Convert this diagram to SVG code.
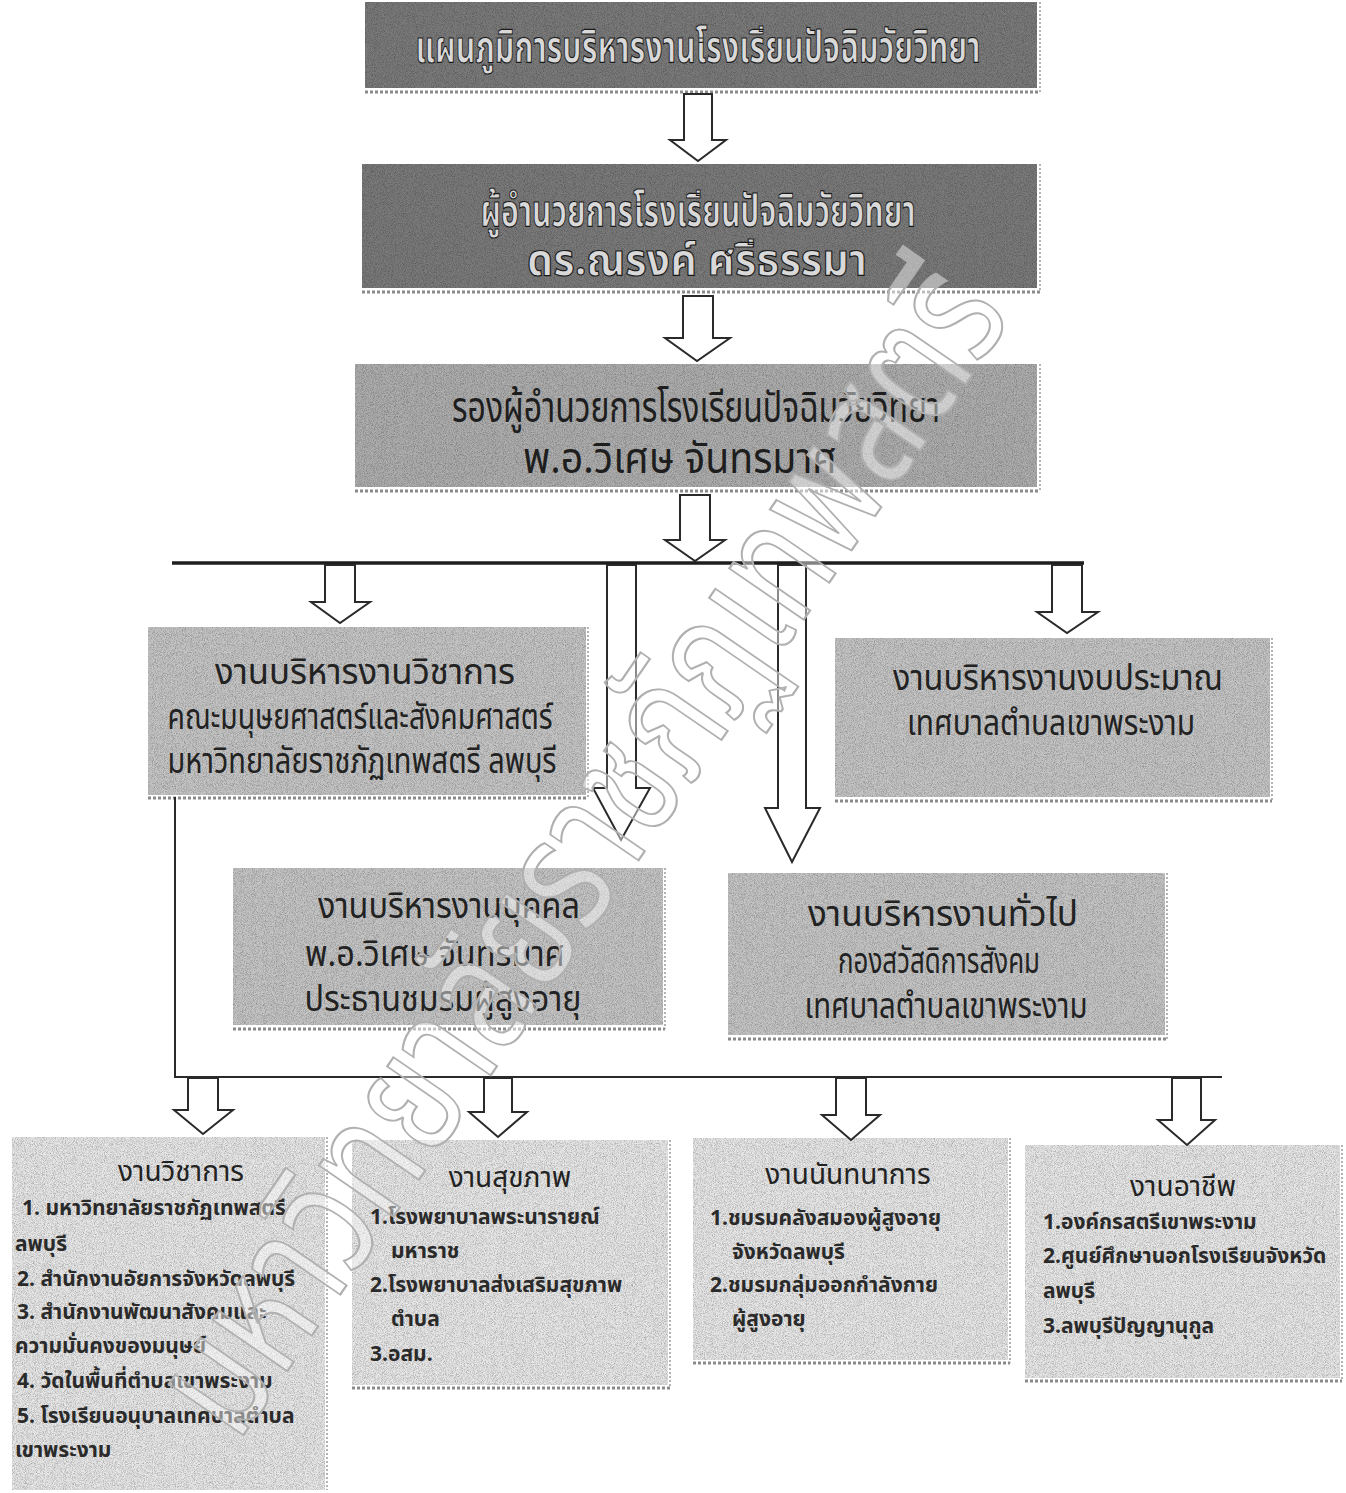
<svg xmlns="http://www.w3.org/2000/svg" width="1346" height="1493" viewBox="0 0 1346 1493">
<defs>
<filter id="grain" x="0" y="0" width="1" height="1" filterUnits="objectBoundingBox" color-interpolation-filters="sRGB">
<feTurbulence type="fractalNoise" baseFrequency="1.1" numOctaves="2" seed="4" result="noise"/>
<feColorMatrix in="noise" type="matrix" values="0 0 0 0 0  0 0 0 0 0  0 0 0 0 0  0.6 0 0 0 -0.24" result="dots"/>
<feComposite in="dots" in2="SourceGraphic" operator="in" result="d2"/>
<feMerge><feMergeNode in="SourceGraphic"/><feMergeNode in="d2"/></feMerge>
</filter>
</defs>
<style>
.bg{fill:#ffffff}
.dark{fill:#7a7a7a;filter:url(#grain)}
.mid{fill:#adadad;filter:url(#grain)}
.lite{fill:#c4c4c4;filter:url(#grain)}
.pale{fill:#e6e6e6;filter:url(#grain)}
.sh{fill:none;stroke:#8a8a8a;stroke-width:3;stroke-dasharray:3 2}
.shr{fill:none;stroke:#9a9a9a;stroke-width:1.5;stroke-dasharray:2 2}
.arrow{fill:#ffffff;stroke:#2a2a2a;stroke-width:2;stroke-linejoin:miter}
.line{fill:none;stroke:#2a2a2a;stroke-width:2}
.thick{fill:none;stroke:#1e1e1e;stroke-width:3.5}
.h1{font-family:"Noto Sans Thai","Noto Sans","DejaVu Sans",sans-serif;font-size:44px;font-weight:bold;fill:#d9d9d9;stroke:#1a1a1a;stroke-width:1.2;text-anchor:middle}
.h2{font-family:"Noto Sans Thai","Noto Sans","DejaVu Sans",sans-serif;font-size:42px;fill:#1e1e1e;text-anchor:middle}
.h3{font-family:"Noto Sans Thai","Noto Sans","DejaVu Sans",sans-serif;font-size:35px;fill:#222222;text-anchor:middle}
.t{font-family:"Noto Sans Thai","Noto Sans","DejaVu Sans",sans-serif;font-size:28px;fill:#222222;text-anchor:middle}
.i{font-family:"Noto Sans Thai","Noto Sans","DejaVu Sans",sans-serif;font-size:21px;font-weight:bold;fill:#2a2a2a}
.wm{font-family:"Noto Sans Thai","Noto Sans","DejaVu Sans",sans-serif;font-size:165px;fill:#ffffff;fill-opacity:0.45;stroke:#b0b0b0;stroke-width:2.2;text-anchor:middle}
</style>
<rect class="bg" x="0" y="0" width="1346" height="1493"/>

<g id="title">
<rect class="dark" x="365" y="2" width="672" height="86"/>
<line class="sh" x1="365" y1="92" x2="1040" y2="92"/>
<line class="shr" x1="1040" y1="2" x2="1040" y2="92"/>
<text class="h1" x="698" y="62" textLength="565" lengthAdjust="spacingAndGlyphs">แผนภูมิการบริหารงานโรงเรียนปัจฉิมวัยวิทยา</text>
</g>

<g id="director">
<rect class="dark" x="362" y="164" width="675" height="124"/>
<line class="sh" x1="362" y1="292" x2="1040" y2="292"/>
<line class="shr" x1="1040" y1="164" x2="1040" y2="292"/>
<text class="h1" x="698" y="226" textLength="435" lengthAdjust="spacingAndGlyphs">ผู้อำนวยการโรงเรียนปัจฉิมวัยวิทยา</text>
<text class="h1" x="697" y="275" textLength="340" lengthAdjust="spacingAndGlyphs">ดร.ณรงค์  ศรีธรรมา</text>
</g>

<g id="deputy">
<rect class="mid" x="355" y="364" width="682" height="123"/>
<line class="sh" x1="355" y1="491" x2="1040" y2="491"/>
<line class="shr" x1="1040" y1="364" x2="1040" y2="491"/>
<text class="h2" x="696" y="422" textLength="488" lengthAdjust="spacingAndGlyphs">รองผู้อำนวยการโรงเรียนปัจฉิมวัยวิทยา</text>
<text class="h2" x="680" y="473" textLength="314" lengthAdjust="spacingAndGlyphs">พ.อ.วิเศษ  จันทรมาศ</text>
</g>

<g id="academic">
<rect class="lite" x="148" y="627" width="438" height="168"/>
<line class="sh" x1="148" y1="798" x2="588" y2="798"/>
<line class="shr" x1="588" y1="627" x2="588" y2="798"/>
<text class="h3" x="365" y="684" textLength="300" lengthAdjust="spacingAndGlyphs">งานบริหารงานวิชาการ</text>
<text class="h3" x="360" y="729" textLength="385" lengthAdjust="spacingAndGlyphs">คณะมนุษยศาสตร์และสังคมศาสตร์</text>
<text class="h3" x="362" y="773" textLength="389" lengthAdjust="spacingAndGlyphs">มหาวิทยาลัยราชภัฏเทพสตรี ลพบุรี</text>
</g>

<g id="budget">
<rect class="lite" x="835" y="638" width="435" height="159"/>
<line class="sh" x1="835" y1="801" x2="1272" y2="801"/>
<line class="shr" x1="1272" y1="638" x2="1272" y2="801"/>
<text class="h3" x="1058" y="690" textLength="330" lengthAdjust="spacingAndGlyphs">งานบริหารงานงบประมาณ</text>
<text class="h3" x="1051" y="735" textLength="288" lengthAdjust="spacingAndGlyphs">เทศบาลตำบลเขาพระงาม</text>
</g>

<g id="personnel">
<rect class="lite" x="233" y="868" width="430" height="157"/>
<line class="sh" x1="233" y1="1029" x2="665" y2="1029"/>
<line class="shr" x1="665" y1="868" x2="665" y2="1029"/>
<text class="h3" x="449" y="918" textLength="262" lengthAdjust="spacingAndGlyphs">งานบริหารงานบุคคล</text>
<text class="h3" x="435" y="966" textLength="260" lengthAdjust="spacingAndGlyphs">พ.อ.วิเศษ  จันทรมาศ</text>
<text class="h3" x="443" y="1011" textLength="277" lengthAdjust="spacingAndGlyphs">ประธานชมรมผู้สูงอายุ</text>
</g>

<g id="general">
<rect class="lite" x="728" y="873" width="437" height="162"/>
<line class="sh" x1="728" y1="1039" x2="1167" y2="1039"/>
<line class="shr" x1="1167" y1="873" x2="1167" y2="1039"/>
<text class="h3" x="943" y="926" textLength="270" lengthAdjust="spacingAndGlyphs">งานบริหารงานทั่วไป</text>
<text class="h3" x="939" y="973" textLength="202" lengthAdjust="spacingAndGlyphs">กองสวัสดิการสังคม</text>
<text class="h3" x="946" y="1018" textLength="283" lengthAdjust="spacingAndGlyphs">เทศบาลตำบลเขาพระงาม</text>
</g>

<g id="acad-work">
<rect class="pale" x="12" y="1137" width="313" height="353"/>
<line class="shr" x1="327" y1="1137" x2="327" y2="1490"/>
<text class="t" x="181" y="1181">งานวิชาการ</text>
<text class="i" x="22" y="1215">1. มหาวิทยาลัยราชภัฏเทพสตรี</text>
<text class="i" x="15" y="1251">ลพบุรี</text>
<text class="i" x="17" y="1286">2. สำนักงานอัยการจังหวัดลพบุรี</text>
<text class="i" x="17" y="1319">3. สำนักงานพัฒนาสังคมและ</text>
<text class="i" x="15" y="1353">ความมั่นคงของมนุษย์</text>
<text class="i" x="17" y="1388">4. วัดในพื้นที่ตำบลเขาพระงาม</text>
<text class="i" x="17" y="1423">5. โรงเรียนอนุบาลเทศบาลตำบล</text>
<text class="i" x="15" y="1457">เขาพระงาม</text>
</g>

<g id="health">
<rect class="pale" x="352" y="1140" width="316" height="245"/>
<line class="sh" x1="352" y1="1388" x2="670" y2="1388"/>
<line class="shr" x1="670" y1="1140" x2="670" y2="1388"/>
<text class="t" x="510" y="1187">งานสุขภาพ</text>
<text class="i" x="370" y="1224">1.โรงพยาบาลพระนารายณ์</text>
<text class="i" x="391" y="1258">มหาราช</text>
<text class="i" x="370" y="1292">2.โรงพยาบาลส่งเสริมสุขภาพ</text>
<text class="i" x="391" y="1326">ตำบล</text>
<text class="i" x="370" y="1361">3.อสม.</text>
</g>

<g id="recreation">
<rect class="pale" x="693" y="1138" width="315" height="222"/>
<line class="sh" x1="693" y1="1363" x2="1010" y2="1363"/>
<line class="shr" x1="1010" y1="1138" x2="1010" y2="1363"/>
<text class="t" x="848" y="1184">งานนันทนาการ</text>
<text class="i" x="710" y="1225">1.ชมรมคลังสมองผู้สูงอายุ</text>
<text class="i" x="732" y="1259">จังหวัดลพบุรี</text>
<text class="i" x="710" y="1292">2.ชมรมกลุ่มออกกำลังกาย</text>
<text class="i" x="732" y="1326">ผู้สูงอายุ</text>
</g>

<g id="career">
<rect class="pale" x="1025" y="1145" width="315" height="233"/>
<line class="sh" x1="1025" y1="1381" x2="1342" y2="1381"/>
<line class="shr" x1="1342" y1="1145" x2="1342" y2="1381"/>
<text class="t" x="1183" y="1196">งานอาชีพ</text>
<text class="i" x="1043" y="1229">1.องค์กรสตรีเขาพระงาม</text>
<text class="i" x="1043" y="1263">2.ศูนย์ศึกษานอกโรงเรียนจังหวัด</text>
<text class="i" x="1043" y="1298">ลพบุรี</text>
<text class="i" x="1043" y="1333">3.ลพบุรีปัญญานุกูล</text>
</g>

<g id="connectors">
<path class="arrow" d="M684,94 L712,94 L712,140 L726,140 L698,161 L670,140 L684,140 Z"/>
<path class="arrow" d="M683,296 L713,296 L713,338 L730,338 L697,361 L665,338 L683,338 Z"/>
<path class="arrow" d="M680,495 L710,495 L710,540 L725,540 L695,561 L665,540 L680,540 Z"/>
<line class="thick" x1="172" y1="563" x2="1084" y2="563"/>
<path class="arrow" d="M325,565 L355,565 L355,602 L370,602 L340,623 L311,602 L325,602 Z"/>
<path class="arrow" d="M607,565 L636,565 L636,788 L650,788 L621,840 L593,788 L607,788 Z"/>
<path class="arrow" d="M778,565 L806,565 L806,808 L820,808 L792,862 L765,808 L778,808 Z"/>
<path class="arrow" d="M1052,565 L1082,565 L1082,612 L1098,612 L1067,633 L1037,612 L1052,612 Z"/>
<polyline class="line" points="175,797 175,1077 1222,1077"/>
<path class="arrow" d="M188,1078 L218,1078 L218,1110 L233,1110 L203,1134 L174,1110 L188,1110 Z"/>
<path class="arrow" d="M484,1078 L512,1078 L512,1112 L527,1112 L498,1137 L469,1112 L484,1112 Z"/>
<path class="arrow" d="M836,1078 L866,1078 L866,1115 L880,1115 L851,1140 L822,1115 L836,1115 Z"/>
<path class="arrow" d="M1172,1078 L1201,1078 L1201,1120 L1215,1120 L1187,1145 L1158,1120 L1172,1120 Z"/>
</g>

<g id="watermark">
<text class="wm" x="625" y="880" transform="rotate(-55.5 625 880)" textLength="1370" lengthAdjust="spacingAndGlyphs">มหาวิทยาลัยราชภัฏเทพสตรี</text>
</g>
</svg>
